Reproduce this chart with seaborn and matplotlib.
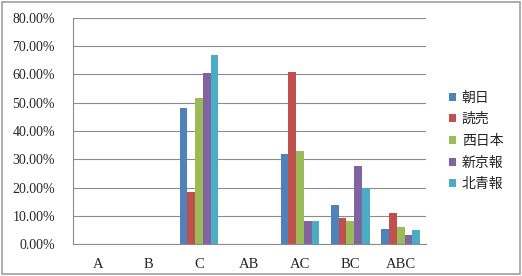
import matplotlib
matplotlib.use("Agg")
import matplotlib.pyplot as plt
import seaborn as sns
import pandas as pd
import numpy as np
from matplotlib.patches import Rectangle
from matplotlib.ticker import FuncFormatter, FixedLocator

categories = ["A", "B", "C", "AB", "AC", "BC", "ABC"]
series_names = ["朝日", "読売", "西日本", "新京報", "北青報"]
asahi = [0, 0, 48.1, 0, 32.0, 14.0, 5.3]
yomiuri = [0, 0, 18.4, 0, 60.7, 9.2, 11.0]
nishinippon = [0, 0, 51.8, 0, 33.1, 8.4, 6.1]
xinjing = [0, 0, 60.5, 0, 8.1, 27.6, 3.2]
beiqing = [0, 0, 67.0, 0, 8.1, 19.9, 4.9]
yticks = [0, 10, 20, 30, 40, 50, 60, 70, 80]

colors = ["#4F81BD", "#C0504D", "#9BBB59", "#8064A2", "#4BACC6"]

rows = []
for name, vals in zip(series_names, [asahi, yomiuri, nishinippon, xinjing, beiqing]):
    for c, v in zip(categories, vals):
        rows.append({"cat": c, "series": name, "val": v})
df = pd.DataFrame(rows)

sns.set_style("white")
plt.rcParams["font.family"] = ["Noto Sans CJK JP", "DejaVu Sans"]

fig = plt.figure(figsize=(5.22, 2.76), dpi=100)
ax = fig.add_axes([73/522, 1 - 244.3/276, (426-73)/522, (244.3-17.8)/276])

sns.barplot(data=df, x="cat", y="val", hue="series", order=categories,
            hue_order=series_names, palette=colors, width=0.77, gap=0,
            saturation=1, ax=ax, legend=True, linewidth=0)

ax.set_ylim(0, 80)
ax.set_xlim(-0.5, 6.5)
ax.set_yticks(yticks)
ax.yaxis.set_major_formatter(FuncFormatter(lambda v, p: f"{v:.2f}%"))
ax.grid(axis="y", color="#8c8c8c", linewidth=0.8)
ax.set_axisbelow(True)
ax.set_xlabel("")
ax.set_ylabel("")
for s in ["top", "right"]:
    ax.spines[s].set_visible(False)
for s in ["left", "bottom"]:
    ax.spines[s].set_color("#8c8c8c")
    ax.spines[s].set_linewidth(0.8)

ax.tick_params(axis="y", which="major", length=5, color="#8c8c8c", width=0.8, pad=8)
ax.tick_params(axis="x", which="major", length=0, pad=10)
ax.xaxis.set_minor_locator(FixedLocator(np.arange(-0.5, 7.0, 1.0)))
ax.tick_params(axis="x", which="minor", length=5, color="#8c8c8c", width=0.8)

for lab in ax.get_yticklabels():
    lab.set_fontfamily("Liberation Serif")
    lab.set_fontsize(10)
for lab in ax.get_xticklabels():
    lab.set_fontfamily("Liberation Serif")
    lab.set_fontsize(10.5)

leg = ax.legend(loc="upper left", bbox_to_anchor=(443/522, 1 - 85/276),
                bbox_transform=fig.transFigure, frameon=False,
                fontsize=10, handlelength=0.5, handleheight=0.5,
                handletextpad=0.45, labelspacing=0.55, borderaxespad=0)

fig.patches.append(Rectangle((2/522, 2/276), 1 - 4/522, 1 - 4/276,
                             transform=fig.transFigure, fill=False,
                             edgecolor="#a0a0a0", linewidth=1.2))

fig.savefig("out.png", dpi=100)
